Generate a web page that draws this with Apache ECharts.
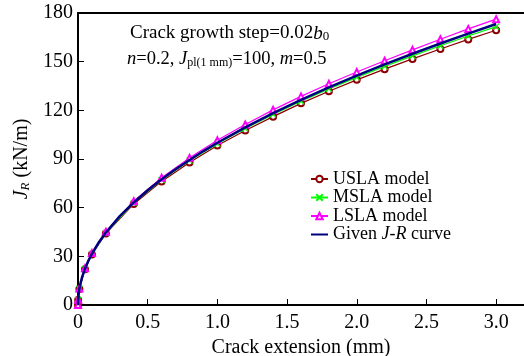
<!DOCTYPE html>
<html>
<head>
<meta charset="utf-8">
<script src="https://cdn.jsdelivr.net/npm/echarts@6/dist/echarts.min.js"></script>
<style>
  html, body { margin: 0; padding: 0; background: #fff; }
  #chart { width: 524px; height: 356px; }
</style>
</head>
<body>
<div id="chart"></div>
<script>
// crack extension (mm) where model points are plotted
var crackModel = [0, 0.001, 0.01, 0.05, 0.1, 0.2, 0.4, 0.6, 0.8, 1.0, 1.2, 1.4, 1.6, 1.8, 2.0, 2.2, 2.4, 2.6, 2.8, 3.0];
var jUSLA = [0, 3.1, 9.9, 22.1, 31.2, 44.0, 62.3, 76.2, 87.8, 98.3, 107.6, 116.1, 124.3, 131.8, 138.8, 145.4, 151.7, 157.8, 163.7, 169.4];
var jMSLA = [0, 3.2, 10.0, 22.3, 31.5, 44.5, 63.0, 77.1, 89.0, 99.4, 108.8, 117.5, 125.6, 133.2, 140.3, 147.1, 153.6, 159.8, 165.8, 171.6];
var jLSLA = [0, 3.2, 10.1, 22.6, 32.0, 45.2, 64.0, 78.5, 90.7, 101.5, 111.3, 120.3, 128.6, 136.4, 143.6, 150.6, 157.3, 163.8, 170.2, 176.2];

// given J-R curve
var crackGiven = [0, 0.001, 0.005, 0.01, 0.02, 0.03, 0.05, 0.075, 0.1, 0.15, 0.2, 0.3, 0.4, 0.5, 0.6, 0.7, 0.8, 0.9, 1.0, 1.2, 1.4, 1.6, 1.8, 2.0, 2.2, 2.4, 2.6, 2.8, 3.0];
var jGiven = [0, 3.2, 7.1, 10.0, 14.1, 17.3, 22.4, 27.4, 31.6, 38.7, 44.7, 54.8, 63.2, 70.7, 77.5, 83.7, 89.4, 94.9, 100.0, 109.5, 118.3, 126.5, 134.2, 141.4, 148.3, 154.9, 161.2, 167.3, 173.2];

var seriesNames = ['USLA model', 'MSLA model', 'LSLA model', 'Given J-R curve'];

var FONT = '"Liberation Serif", "Times New Roman", serif';

function pairs(xs, ys) {
  return xs.map(function(x, i) { return [x, ys[i]]; });
}

var chart = echarts.init(document.getElementById('chart'));

chart.setOption({
  animation: false,
  backgroundColor: '#fff',
  textStyle: { fontFamily: FONT, color: '#000' },
  grid: { left: 78, right: 0, top: 13, bottom: 51, outerBoundsMode: 'none' },
  legend: {
    orient: 'vertical',
    left: 305,
    top: 165,
    itemWidth: 17,
    itemHeight: 8,
    itemGap: 0.5,
    data: [
      'USLA model',
      'MSLA model',
      'LSLA model',
      // line only, no symbol
      { name: 'Given J-R curve', itemStyle: { color: 'rgba(0,0,0,0)', borderWidth: 0, opacity: 0 } }
    ],
    textStyle: {
      fontFamily: FONT,
      fontSize: 18,
      color: '#000',
      rich: { i: { fontFamily: FONT, fontSize: 18, fontStyle: 'italic', color: '#000' } }
    },
    formatter: function(name) {
      if (name === 'Given J-R curve') return 'Given {i|J}-{i|R} curve';
      return name;
    }
  },
  xAxis: [
    {
      type: 'value',
      min: 0,
      max: 3.2,
      interval: 0.5,
      name: 'Crack extension (mm)',
      nameLocation: 'middle',
      nameGap: 32,
      nameTextStyle: { fontFamily: FONT, fontSize: 20, color: '#000' },
      axisLine: { lineStyle: { color: '#000', width: 2 } },
      axisTick: { inside: true, length: 6, lineStyle: { color: '#000', width: 1 } },
      axisLabel: {
        fontFamily: FONT, fontSize: 20, color: '#000', margin: 8, showMaxLabel: false,
        formatter: function(v) { return v === 0 ? '0' : v.toFixed(1); }
      },
      splitLine: { show: false }
    },
    {
      type: 'value',
      position: 'top',
      min: 0,
      max: 3.2,
      axisLine: { show: true, lineStyle: { color: '#000', width: 2 } },
      axisTick: { show: false },
      axisLabel: { show: false },
      splitLine: { show: false }
    }
  ],
  yAxis: {
    type: 'value',
    min: 0,
    max: 180,
    interval: 30,
    name: '{i|J}{s|R} (kN/m)',
    nameLocation: 'middle',
    nameRotate: 90,
    nameGap: 41,
    nameTextStyle: {
      fontFamily: FONT, fontSize: 20, color: '#000',
      rich: {
        i: { fontFamily: FONT, fontSize: 20, fontStyle: 'italic', color: '#000' },
        s: { fontFamily: FONT, fontSize: 13, fontStyle: 'italic', color: '#000', padding: [7, 0, 0, 0] }
      }
    },
    axisLine: { show: true, lineStyle: { color: '#000', width: 2 } },
    axisTick: { inside: true, length: 6, lineStyle: { color: '#000', width: 1 } },
    axisLabel: { fontFamily: FONT, fontSize: 20, color: '#000', margin: 5, padding: [7, 0, 0, 0] },
    splitLine: { show: false }
  },
  graphic: [
    {
      type: 'text',
      left: 130,
      top: 24,
      style: {
        text: 'Crack growth step=0.02{i|b}{s|0}',
        font: '19px ' + FONT,
        fill: '#000',
        rich: {
          i: { fontFamily: FONT, fontSize: 19, fontStyle: 'italic', fill: '#000' },
          s: { fontFamily: FONT, fontSize: 13, fill: '#000', padding: [7, 0, 0, 0] }
        }
      }
    },
    {
      type: 'text',
      left: 127,
      top: 50,
      style: {
        text: '{i|n}=0.2, {i|J}{s|pl(1 mm)}=100, {i|m}=0.5',
        font: '18.5px ' + FONT,
        fill: '#000',
        rich: {
          i: { fontFamily: FONT, fontSize: 18.5, fontStyle: 'italic', fill: '#000' },
          s: { fontFamily: FONT, fontSize: 12, fill: '#000', padding: [7, 0, 0, 0] }
        }
      }
    }
  ],
  series: [
    {
      name: 'USLA model',
      type: 'line',
      data: pairs(crackModel, jUSLA),
      symbol: 'emptyCircle',
      symbolSize: 6,
      color: '#8b0000',
      lineStyle: { width: 1.2, color: '#8b0000' },
      itemStyle: { color: '#8b0000', borderWidth: 1.5 },
      z: 2
    },
    {
      name: 'MSLA model',
      type: 'line',
      data: pairs(crackModel, jMSLA),
      symbol: 'path://M0,0L10,10M10,0L0,10',
      symbolSize: 6,
      color: '#00ff00',
      lineStyle: { width: 1.2, color: '#00ff00' },
      itemStyle: { color: '#00ff00', borderColor: '#00ff00', borderWidth: 1.2 },
      z: 3
    },
    {
      name: 'LSLA model',
      type: 'line',
      data: pairs(crackModel, jLSLA),
      symbol: 'emptyTriangle',
      symbolSize: 6,
      color: '#ff00ff',
      lineStyle: { width: 1.2, color: '#ff00ff' },
      itemStyle: { color: '#ff00ff', borderWidth: 1.5 },
      z: 4
    },
    {
      name: 'Given J-R curve',
      type: 'line',
      data: pairs(crackGiven, jGiven),
      symbol: 'none',
      showSymbol: false,
      color: '#000080',
      lineStyle: { width: 2.5, color: '#000080' },
      z: 5
    }
  ]
});

window.addEventListener('resize', function() { chart.resize(); });
</script>
</body>
</html>
